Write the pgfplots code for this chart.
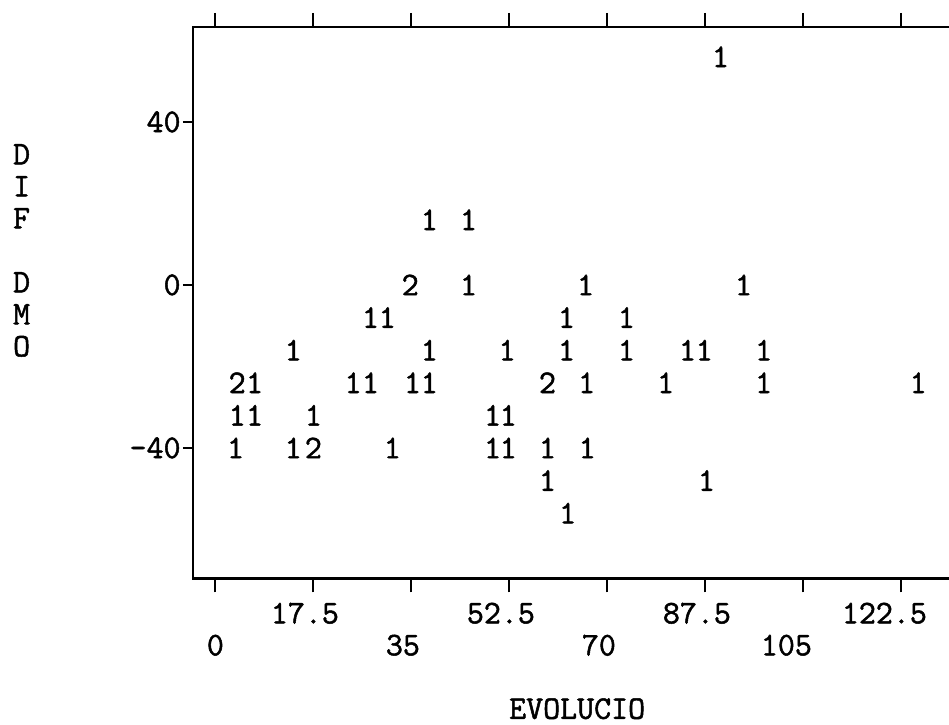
\documentclass[border=0pt]{standalone}
\usepackage{fontspec}
\setmainfont{Latin Modern Mono}[FakeBold=1.5]
\usepackage{pgfplots}
\pgfplotsset{compat=1.18}
\pgfplotstableread{
x y c
90.2 56 1
38.2 16 1
45.2 16 1
34.8 0 2
45.2 0 1
66.1 0 1
94.3 0 1
27.7 -8 1
30.7 -8 1
62.7 -8 1
73.4 -8 1
13.9 -16 1
38.2 -16 1
52.1 -16 1
62.7 -16 1
73.4 -16 1
84.3 -16 1
87.3 -16 1
97.9 -16 1
3.9 -24 2
7.0 -24 1
24.6 -24 1
27.7 -24 1
35.2 -24 1
38.2 -24 1
59.3 -24 2
66.3 -24 1
80.4 -24 1
97.9 -24 1
125.5 -24 1
3.9 -32 1
7.0 -32 1
17.5 -32 1
49.5 -32 1
52.3 -32 1
3.6 -40 1
13.9 -40 1
17.5 -40 2
31.6 -40 1
49.5 -40 1
52.3 -40 1
59.3 -40 1
66.4 -40 1
59.3 -48 1
87.7 -48 1
62.9 -56 1
}\pts
\begin{document}
\begin{tikzpicture}[font=\fontsize{16.5}{16}\selectfont]
\begin{axis}[name=main,
 scale only axis, x=2.8pt, y=2.0375pt,
 xmin=-4, xmax=136, ymin=-72, ymax=63.3,
 axis line style={line width=1.2pt},
 ytick=\empty,
 xtick={17.5,52.5,87.5,122.5},
 xticklabels={17.5\phantom{0},52.5\phantom{0},87.5\phantom{0},122.5\phantom{00}},
 extra x ticks={0,35,70,105},
 extra x tick labels={0,35\phantom{0},70\phantom{0},105\phantom{00}},
 extra x tick style={xticklabel style={yshift=-16pt}},
 tick align=outside, xtick pos=both, xticklabel pos=bottom,
 major tick length=7pt,
 tick style={line width=1pt, black},
 xticklabel style={inner sep=0pt, yshift=-5pt},
 every axis x label/.style={at={(axis cs:64.6,-104)},anchor=center},
 every axis y label/.style={at={(axis cs:-34.6,7.6)},anchor=center},
 xlabel={EVOLUCIO},
 ylabel={\begin{tabular}{@{}c@{}}D\\I\\F\\ \\D\\M\\O\end{tabular}},
]
\addplot[draw=none, mark=none, nodes near coords={\pgfplotspointmeta},
  point meta=explicit symbolic,
  every node near coord/.style={anchor=center, inner sep=0pt}]
  table[x=x, y=y, meta=c] {\pts};
\end{axis}
\begin{axis}[at={(main.south west)}, anchor=south west,
 scale only axis, x=2.8pt, y=2.0375pt,
 xmin=-4, xmax=136, ymin=-72, ymax=63.3,
 hide x axis, axis y line*=left,
 axis line style={line width=1.2pt, -},
 ytick={-40,0,40}, yticklabels={-40,0,40},
 tick align=outside, major tick length=5pt,
 tick style={line width=1pt, black},
 yticklabel style={inner sep=1pt},
]
\addplot[draw=none] coordinates {(0,0)};
\end{axis}
\pgfresetboundingbox
\path ([xshift=-96.5pt,yshift=-73pt]main.south west) rectangle ([xshift=378pt,yshift=13.5pt]main.north west);
\end{tikzpicture}
\end{document}
